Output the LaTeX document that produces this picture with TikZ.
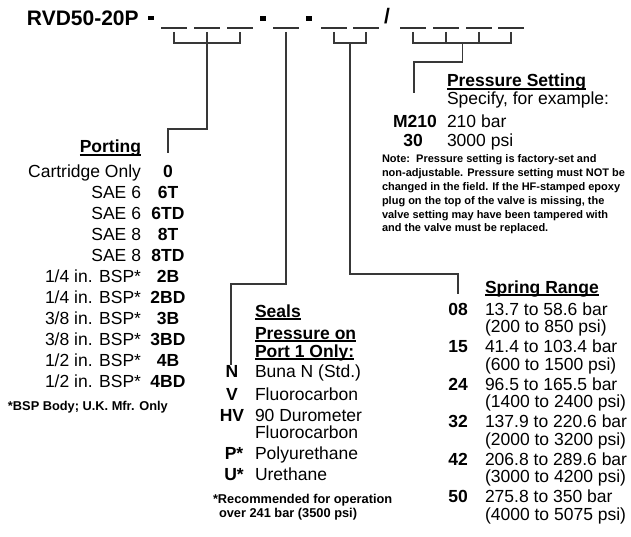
\documentclass[tikz,border=0pt]{standalone}
\usepackage{fontspec}
\setmainfont{Liberation Sans}
\usetikzlibrary{positioning,calc}

\begin{document}
\begin{tikzpicture}[x=1pt,y=-1pt,
  every node/.style={inner sep=0pt,outer sep=0pt},
  title/.style={font=\fontsize{21}{25}\bfseries\selectfont,anchor=base west},
  txt/.style={font=\fontsize{17.5}{20}\selectfont,anchor=base west},
  head/.style={font=\fontsize{17.5}{20}\bfseries\selectfont,anchor=base west},
  code/.style={font=\fontsize{17.5}{20}\bfseries\selectfont,anchor=base},
  note/.style={font=\fontsize{11}{13}\bfseries\selectfont,anchor=base west},
  foot/.style={font=\fontsize{12.8}{14}\bfseries\selectfont,anchor=base west},
  sepdot/.style={fill=black,minimum width=6pt,minimum height=4.5pt},
  uline/.style={line width=1.3pt,draw=black!80},
  rule/.style={line width=1.3pt,draw=black!78},
  ul/.style={line width=1.2pt,draw=black}]
\useasboundingbox (0,0) rectangle (631,537);
% model code
\node [title] (model) at (27,26) {RVD50-20P};
\node [sepdot] (s1) at (150.5,18) {};
\node [sepdot] (s2) at (263,18.5) {};
\node [sepdot] (s3) at (309,18.5) {};
\node [title,anchor=base] (sl) at (387,24) {/};
\foreach \n/\x in {1/174,2/207,3/240,4/286,5/334,6/366,7/413,8/446,9/479,10/511}{
  \coordinate (d\n) at (\x,28);
  \draw [uline] ($(d\n)+(-13,0)$) -- ($(d\n)+(13,0)$);
}
% free ends of the leaders
\coordinate (pe) at (168,153);
\coordinate (se) at (231,365);
\coordinate (re) at (458,294);
\coordinate (me) at (414,93);
% brackets
\draw [rule] ($(d1)+(0,4)$) -- ++(0,11) -| ($(d3)+(0,4)$);
\draw [rule] ($(d2)+(0,4)$) |- ($(pe)+(0,-24)$) -- (pe);
\draw [rule] ($(d4)+(0,4)$) |- ($(se)+(0,-81)$) -- (se);
\draw [rule] ($(d5)+(0,4)$) -- ++(0,11) -| ($(d6)+(0,4)$);
\draw [rule] ($(d5)!.5!(d6)+(0,15)$) |- ($(re)+(0,-20)$) -- (re);
\draw [rule] ($(d7)+(0,4)$) -- ++(0,11) -| ($(d10)+(0,4)$);
\foreach \n in {8,9}
  \draw [rule] ($(d\n)+(0,4)$) -- ++(0,11);
\draw [rule] ($(d8)!.5!(d9)+(0,15)$) |- ($(me)+(0,-31)$) -- (me);
% pressure setting
\node [head] (ps) at (447,87) {Pressure Setting};
\draw [ul] ([yshift=-2pt]ps.base west) -- ([yshift=-2pt]ps.base east);
\node [txt] (spec) at (447,105) {Specify, for example:};
\node [code] (m210) at (415,128) {M210};
\node [txt] (bar) at (447,128) {210 bar};
\node [code] (m30) at (413,147) {30};
\node [txt] (psi) at (447,147) {3000 psi};
\foreach \i/\t in {0/{Note:\ \ Pressure setting is factory-set and},
  1/{non-adjustable. Pressure setting must NOT be},
  2/{changed in the field. If the HF-stamped epoxy},
  3/{plug on the top of the valve is missing, the},
  4/{valve setting may have been tampered with},
  5/{and the valve must be replaced.}}
  \node [note] (n\i) at (382,163+13.8*\i) {\t};
% porting
\node [head,anchor=base east] (port) at (141,153) {Porting};
\draw [ul] ([yshift=-2pt]port.base west) -- ([yshift=-2pt]port.base east);
\foreach \t/\c [count=\i from 0] in {Cartridge Only/0,SAE 6/6T,SAE 6/6TD,SAE 8/8T,SAE 8/8TD,
  {1/4 in. BSP*}/2B,{1/4 in. BSP*}/2BD,{3/8 in. BSP*}/3B,{3/8 in. BSP*}/3BD,
  {1/2 in. BSP*}/4B,{1/2 in. BSP*}/4BD}{
  \node [txt,anchor=base east] (pl\i) at (141,178+20.9*\i) {\t};
  \node [code] (pc\i) at (168,178+20.9*\i) {\c};
}
\node [foot] (pnote) at (8,410) {*BSP Body; U.K. Mfr. Only};
% seals
\node [head] (seals) at (255,317) {Seals};
\node [head] (pon) at (255,339) {Pressure on};
\node [head] (port1) at (255,357) {Port 1 Only:};
\foreach \h in {seals,pon,port1}
  \draw [ul] ([yshift=-2pt]\h.base west) -- ([yshift=-2pt]\h.base east);
\node [code] (sN) at (232,377) {N};
\node [txt] (tN) at (255,377) {Buna N (Std.)};
\node [code] (sV) at (232,400) {V};
\node [txt] (tV) at (255,400) {Fluorocarbon};
\node [code] (sHV) at (232,421) {HV};
\node [txt] (tHV) at (255,421) {90 Durometer};
\node [txt] (tHVb) at (255,438) {Fluorocarbon};
\node [code] (sP) at (234,459) {P*};
\node [txt] (tP) at (255,459) {Polyurethane};
\node [code] (sU) at (234,480) {U*};
\node [txt] (tU) at (255,480) {Urethane};
\node [foot] (snote) at (213,503) {*Recommended for operation};
\node [foot] (snote2) at (219,517) {over 241 bar (3500 psi)};
% spring range
\node [head] (spr) at (485,293) {Spring Range};
\draw [ul] ([yshift=-2pt]spr.base west) -- ([yshift=-2pt]spr.base east);
\foreach \c/\b/\p [count=\i from 0] in {08/13.7 to 58.6 bar/(200 to 850 psi),
  15/41.4 to 103.4 bar/(600 to 1500 psi),24/96.5 to 165.5 bar/(1400 to 2400 psi),
  32/137.9 to 220.6 bar/(2000 to 3200 psi),42/206.8 to 289.6 bar/(3000 to 4200 psi),
  50/275.8 to 350 bar/(4000 to 5075 psi)}{
  \node [code] (rc\i) at (458,315+37.5*\i) {\c};
  \node [txt] (rb\i) at (485,315+37.5*\i) {\b};
  \node [txt] (rp\i) at (485,332.5+37.5*\i) {\p};
}
\end{tikzpicture}
\end{document}
